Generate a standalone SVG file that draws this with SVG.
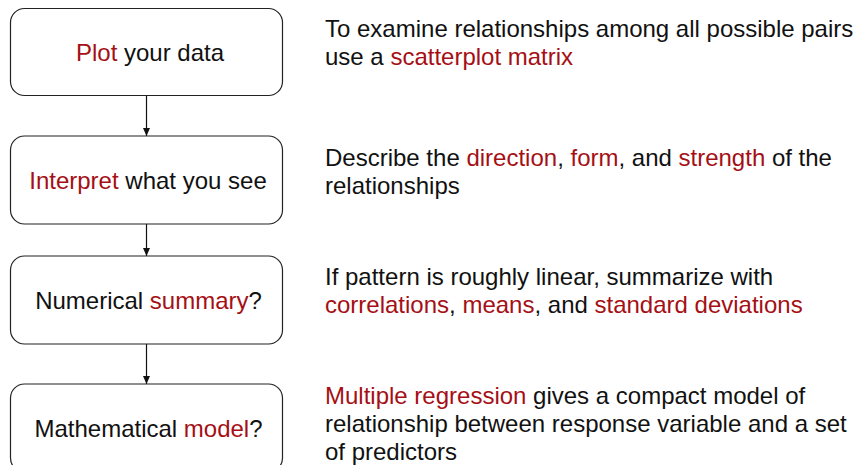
<svg xmlns="http://www.w3.org/2000/svg" width="860" height="465" viewBox="0 0 860 465">
<defs>
<style>
.box{fill:#fff;stroke:#222;stroke-width:1.2}
text{font-family:"Liberation Sans",Arial,sans-serif;font-size:24px;fill:#111}
.c{text-anchor:middle}
.r{fill:#A50F15}
.conn{stroke:#111;stroke-width:1.2;fill:none}
</style>
<marker id="ah" markerWidth="8" markerHeight="8" viewBox="0 0 8 8" refX="8" refY="4" orient="auto" markerUnits="userSpaceOnUse">
<path d="M0,0.5 L8,4 L0,7.5 Z" fill="#111"/>
</marker>
</defs>
<rect width="860" height="465" fill="#fff"/>
<g id="connectors">
<line class="conn" x1="146.5" y1="95.5" x2="146.5" y2="136" marker-end="url(#ah)"/>
<line class="conn" x1="146.5" y1="224" x2="146.5" y2="256" marker-end="url(#ah)"/>
<line class="conn" x1="146.5" y1="344" x2="146.5" y2="384" marker-end="url(#ah)"/>
</g>
<g id="node1">
<rect class="box" x="10.5" y="8.5" width="272" height="87" rx="14"/>
<text class="c" x="150" y="61"><tspan class="r">Plot</tspan> your data</text>
</g>
<g id="node2">
<rect class="box" x="10.5" y="136" width="272" height="88" rx="14"/>
<text class="c" x="148" y="189"><tspan class="r">Interpret</tspan> what you see</text>
</g>
<g id="node3">
<rect class="box" x="10.5" y="256" width="272" height="88" rx="14"/>
<text class="c" x="148.5" y="309">Numerical <tspan class="r">summary</tspan>?</text>
</g>
<g id="node4">
<rect class="box" x="10.5" y="384" width="272" height="88" rx="14"/>
<text class="c" x="148.5" y="437">Mathematical <tspan class="r">model</tspan>?</text>
</g>
<g id="desc1">
<text x="325" y="37">To examine relationships among all possible pairs</text>
<text x="325" y="65">use a <tspan class="r">scatterplot matrix</tspan></text>
</g>
<g id="desc2">
<text x="325" y="166">Describe the <tspan class="r">direction</tspan>, <tspan class="r">form</tspan>, and <tspan class="r">strength</tspan> of the</text>
<text x="325" y="194">relationships</text>
</g>
<g id="desc3">
<text x="325" y="285">If pattern is roughly linear, summarize with</text>
<text x="325" y="313"><tspan class="r">correlations</tspan>, <tspan class="r">means</tspan>, and <tspan class="r">standard deviations</tspan></text>
</g>
<g id="desc4">
<text x="325" y="404"><tspan class="r">Multiple regression</tspan> gives a compact model of</text>
<text x="325" y="432">relationship between response variable and a set</text>
<text x="325" y="460">of predictors</text>
</g>
</svg>
